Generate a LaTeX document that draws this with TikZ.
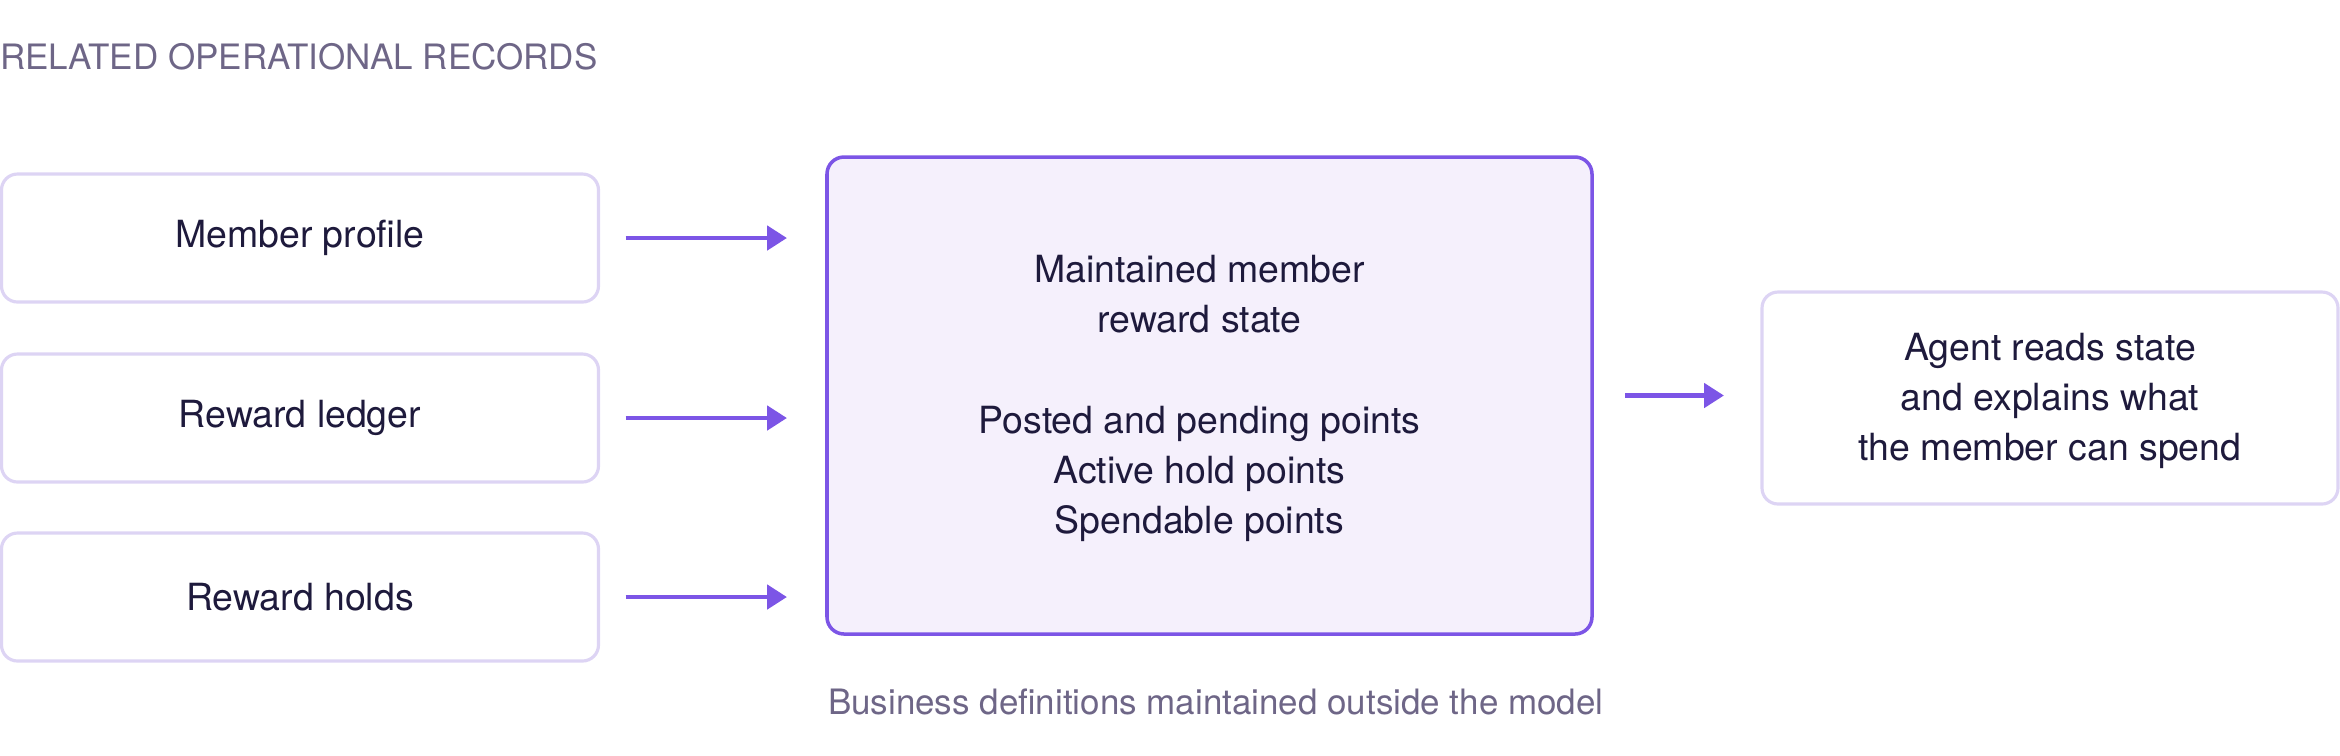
\documentclass[tikz,border=0pt]{standalone}
\usepackage{fontspec}
\setmainfont{TeX Gyre Heros}
\usetikzlibrary{arrows.meta}
\definecolor{ink}{HTML}{1E1A3C}
\definecolor{muted}{HTML}{6E6687}
\definecolor{recline}{HTML}{DDD4F4}
\definecolor{accent}{HTML}{7C55E6}
\definecolor{statefill}{HTML}{F5F0FC}
\newcommand\recfont{\fontsize{10.65}{14.3}\selectfont}
\newcommand\notefont{\fontsize{9.95}{12}\selectfont}

\begin{document}
\begin{tikzpicture}[
    every node/.style={inner sep=0pt, outer sep=0pt},
    record/.style={draw=recline, line width=0.9pt, rounded corners=0.16cm,
      fill=white, minimum width=5.97cm, minimum height=1.28cm,
      text=ink, font=\recfont, align=center},
    statebox/.style={draw=accent, line width=1pt, rounded corners=0.17cm,
      fill=statefill, minimum width=7.65cm, minimum height=4.77cm},
    note/.style={text=muted, font=\notefont, anchor=base west},
    flow/.style={draw=accent, line width=1.4pt,
      -{Triangle[length=0.2cm, width=0.24cm]}}
  ]
          \useasboundingbox (0,0) rectangle (23.4,-7.55);

          % sources
          \node[note] (title) at (0,-0.69) {RELATED OPERATIONAL RECORDS};
          \node[record] (member) at (3.0,-2.38) {Member profile};
          \node[record] (ledger) at (3.0,-4.18) {Reward ledger};
          \node[record] (holds) at (3.0,-5.97) {Reward holds};

          % maintained state
          \node[statebox] (state) at (12.095,-3.955) {};
          \node[text=ink, font=\recfont, align=center] (statetext)
            at ([xshift=-0.1cm, yshift=-0.03cm]state.center)
            {Maintained member\\reward state\\[14.3pt]Posted and pending points\\
             Active hold points\\Spendable points};
          \node[note] (defs) at (8.28,-7.14)
            {Business definitions maintained outside the model};

          % consumer
          \node[record, minimum width=5.76cm, minimum height=2.12cm] (agent)
            at (20.5,-3.98) {};
          \node[text=ink, font=\recfont, align=center] (agenttext)
            at ([yshift=-0.03cm]agent.center)
            {Agent reads state\\and explains what\\the member can spend};

          \draw[flow, shorten <=0.27cm, shorten >=0.4cm]
            (member.east) -- (member.east -| state.west);
          \draw[flow, shorten <=0.27cm, shorten >=0.4cm]
            (ledger.east) -- (ledger.east -| state.west);
          \draw[flow, shorten <=0.27cm, shorten >=0.4cm]
            (holds.east) -- (holds.east -| state.west);
          \draw[flow, shorten <=0.33cm, shorten >=0.38cm]
            (state.east) -- (state.east -| agent.west);
        \end{tikzpicture}
\end{document}
